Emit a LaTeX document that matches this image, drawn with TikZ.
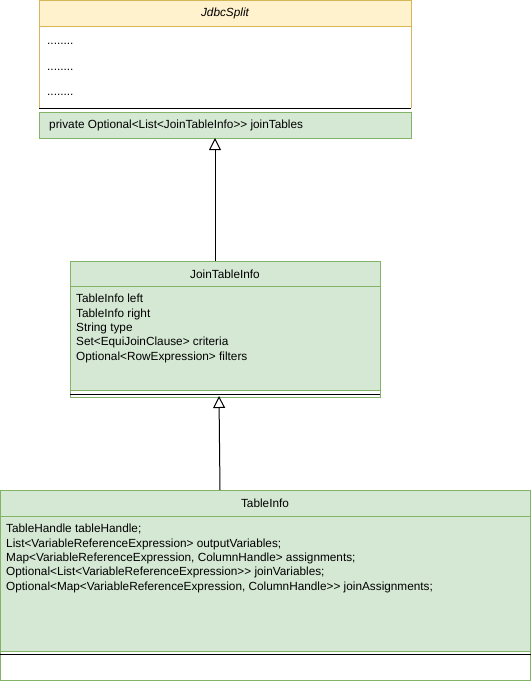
\documentclass[tikz,border=0pt]{standalone}
\usepackage{fontspec}
\setmainfont{Liberation Sans}
\usetikzlibrary{arrows.meta}
\definecolor{gfill}{HTML}{D5E8D4}
\definecolor{gline}{HTML}{82B366}
\definecolor{ofill}{HTML}{FFF2CC}
\definecolor{oline}{HTML}{D6B656}
\begin{document}
\begin{tikzpicture}[x=1pt,y=-1pt,
  txt/.style={inner sep=0pt,font=\fontsize{11.8}{14.4}\selectfont,align=left,anchor=west},
  ttl/.style={inner sep=0pt,font=\fontsize{11.8}{14.4}\selectfont},
  greenbox/.style={draw=gline,fill=gfill,line width=1pt},
  sep/.style={draw=black,line width=1pt},
  inherit/.style={draw=black,line width=1pt,-{Triangle[open,length=12pt,width=12pt,fill=white]}}]
\useasboundingbox (0,0) rectangle (531,681);
% JdbcSplit
\fill[white] (39,0) rectangle (411,108);
\fill[ofill] (39,0) rectangle (411,26);
\draw[oline,line width=1pt] (39,108) -- (39,0) -- (411,0) -- (411,108);
\draw[oline,line width=1pt] (39,26) -- (411,26);
\node[ttl,font=\fontsize{11.8}{14.4}\selectfont\itshape] (jsname) at (225,13) {JdbcSplit};
\node[txt] (r1) at (47,43.5) {........};
\node[txt] (r2) at (47,69.5) {........};
\node[txt] (r3) at (47,94.5) {........};
\draw[sep] (39,108) -- (411,108);
\draw[greenbox] (39,112) rectangle (411,138);
\node[txt] (jt) at (49,125.5) {private Optional<List<JoinTableInfo>{}> joinTables};
% JoinTableInfo
\fill[gfill] (70,261) rectangle (380,390);
\fill[white] (70,390) rectangle (380,397);
\draw[gline,line width=1pt] (70,261) rectangle (380,397);
\draw[gline,line width=1pt] (70,286) -- (380,286);
\draw[gline,line width=1pt] (70,390) -- (380,390);
\draw[sep] (70,394) -- (380,394);
\node[ttl] (jtiname) at (225,274) {JoinTableInfo};
\node[txt,anchor=north west] (jtiattr) at (76,294) {TableInfo left\\TableInfo right\\String type\\Set<EquiJoinClause> criteria\\Optional<RowExpression> filters};
% TableInfo
\fill[gfill] (0,490) rectangle (530,651);
\fill[white] (0,651) rectangle (530,680);
\draw[gline,line width=1pt] (0.5,490) rectangle (530,680);
\draw[gline,line width=1pt] (0,516) -- (530,516);
\draw[gline,line width=1pt] (0,651) -- (530,651);
\draw[sep] (0,654) -- (531,654);
\node[ttl] (tiname) at (265,503) {TableInfo};
\node[txt,anchor=north west] (tiattr) at (6,524) {TableHandle tableHandle;\\List<VariableReferenceExpression> outputVariables;\\Map<VariableReferenceExpression, ColumnHandle> assignments;\\Optional<List<VariableReferenceExpression>{}> joinVariables;\\Optional<Map<VariableReferenceExpression, ColumnHandle>{}> joinAssignments;};
% connectors
\coordinate (a1) at (215,261);
\coordinate (a2) at (215,138);
\draw[inherit] (a1) -- (a2);
\coordinate (b1) at (220,490);
\coordinate (b2) at (219,396);
\draw[inherit] (b1) -- (b2);
\end{tikzpicture}
\end{document}
